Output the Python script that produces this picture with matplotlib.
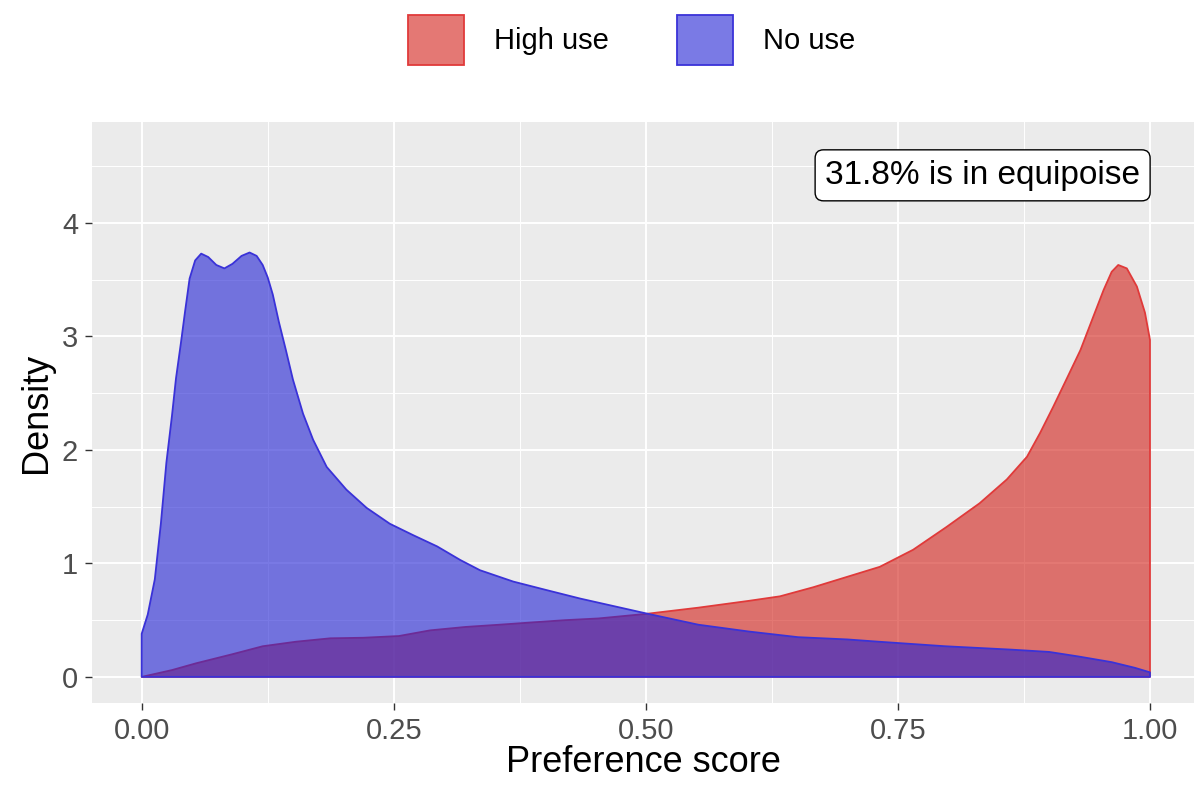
import numpy as np
import matplotlib
matplotlib.use('Agg')
import matplotlib.pyplot as plt
from matplotlib.patches import Patch

plt.rcParams['font.family'] = ['Liberation Sans', 'DejaVu Sans']

# No use density
no_x = [0.000, 0.006, 0.013, 0.019, 0.0245, 0.030, 0.034, 0.039, 0.043, 0.0475,
        0.053, 0.059, 0.066, 0.074, 0.082, 0.090, 0.099, 0.107, 0.114, 0.120,
        0.125, 0.130, 0.136, 0.143, 0.150, 0.160, 0.170, 0.1835, 0.203, 0.223,
        0.246, 0.269, 0.293, 0.316, 0.3355, 0.3685, 0.4015, 0.435, 0.470, 0.500,
        0.552, 0.602, 0.651, 0.700, 0.731, 0.797, 0.863, 0.900, 0.929, 0.962,
        0.985, 1.000]
no_y = [0.38, 0.55, 0.86, 1.35, 1.89, 2.30, 2.63, 2.95, 3.22, 3.51,
        3.67, 3.73, 3.70, 3.63, 3.60, 3.64, 3.71, 3.74, 3.71, 3.63,
        3.52, 3.37, 3.13, 2.88, 2.62, 2.32, 2.09, 1.85, 1.65, 1.49,
        1.35, 1.25, 1.15, 1.03, 0.94, 0.84, 0.765, 0.69, 0.62, 0.56,
        0.46, 0.40, 0.35, 0.33, 0.31, 0.27, 0.24, 0.22, 0.18, 0.13,
        0.08, 0.04]

# High use density
hi_x = [0.000, 0.030, 0.054, 0.090, 0.120, 0.153, 0.187, 0.220, 0.255, 0.286,
        0.321, 0.355, 0.387, 0.420, 0.453, 0.500, 0.552, 0.602, 0.633, 0.666,
        0.699, 0.732, 0.765, 0.798, 0.831, 0.858, 0.878, 0.891, 0.904, 0.917,
        0.931, 0.944, 0.954, 0.962, 0.9685, 0.977, 0.987, 0.995, 1.000]
hi_y = [0.00, 0.06, 0.12, 0.20, 0.27, 0.31, 0.34, 0.345, 0.36, 0.41,
        0.44, 0.46, 0.48, 0.50, 0.515, 0.555, 0.61, 0.67, 0.71, 0.79,
        0.88, 0.97, 1.12, 1.32, 1.53, 1.74, 1.94, 2.15, 2.38, 2.62,
        2.88, 3.18, 3.41, 3.57, 3.63, 3.60, 3.44, 3.21, 2.97]

groups = ['High use', 'No use']
fills = [(210/255, 31/255, 23/255, 0.6), (33/255, 33/255, 212/255, 0.6)]
edges = ['#e03a3a', '#3a32d8']
note = '31.8% is in equipoise'

fig = plt.figure(figsize=(11.94, 7.86), dpi=100)
fig.subplots_adjust(left=92/1194, right=1.0, bottom=1-703/786, top=1-122/786)
ax = fig.add_subplot(111)
ax.set_facecolor('#ebebeb')

for xs, ys, fc, ec in [(hi_x, hi_y, fills[0], edges[0]), (no_x, no_y, fills[1], edges[1])]:
    px = [xs[0]] + list(xs) + [xs[-1]]
    py = [0] + list(ys) + [0]
    ax.fill(px, py, facecolor=fc, edgecolor=ec, linewidth=1.3, joinstyle='round', zorder=3)

ax.set_xlim((92 - 141.7) / 1008.3, (1194 - 141.7) / 1008.3)
ax.set_ylim(-0.23, 4.89)
ax.set_xticks([0, 0.25, 0.5, 0.75, 1.0])
ax.set_xticklabels(['0.00', '0.25', '0.50', '0.75', '1.00'])
ax.set_yticks([0, 1, 2, 3, 4])
ax.set_xticks([0.125, 0.375, 0.625, 0.875], minor=True)
ax.set_yticks([0.5, 1.5, 2.5, 3.5, 4.5], minor=True)
ax.grid(which='major', color='white', linewidth=1.4, zorder=0)
ax.grid(which='minor', color='white', linewidth=0.7, zorder=0)
ax.set_axisbelow(True)
for s in ax.spines.values():
    s.set_visible(False)
ax.tick_params(which='major', length=5, width=1, color='#333333',
               labelsize=21, labelcolor='#4d4d4d', pad=5)
ax.tick_params(which='minor', length=0)

ax.set_xlabel('Preference score', fontsize=26, labelpad=0)
ax.set_ylabel('Density', fontsize=26, labelpad=6)

ax.text(0.834, 4.42, note, fontsize=24, ha='center', va='center', zorder=5,
        bbox=dict(boxstyle='round,pad=0.3,rounding_size=0.25', fc='white', ec='black', lw=1))

handles = [Patch(facecolor=fills[i], edgecolor=edges[i], linewidth=1.3, label=groups[i])
           for i in range(2)]
fig.legend(handles=handles, loc='center', bbox_to_anchor=(0.529, 1 - 40/786), ncol=2,
           frameon=False, fontsize=21, handlelength=1.92, handleheight=2.25,
           handletextpad=1.03, columnspacing=2.33)

plt.savefig('out.png', dpi=100)
